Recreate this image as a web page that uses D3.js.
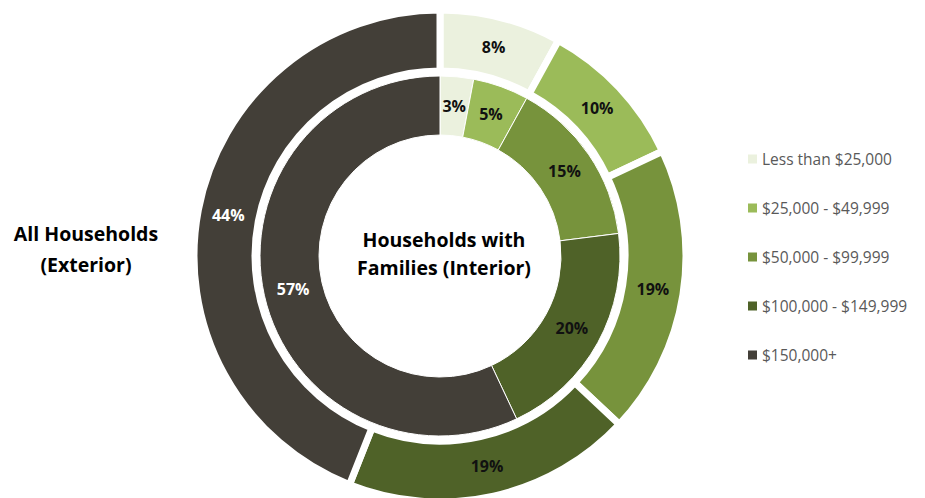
<!DOCTYPE html>
<html>
<head>
<meta charset="utf-8">
<script src="https://cdn.jsdelivr.net/npm/d3@7"></script>
<style>
  html, body { margin: 0; padding: 0; background: #fff; }
  svg { display: block; font-family: "Open Sans", "Noto Sans", sans-serif; }
</style>
</head>
<body>
<svg id="chart" width="925" height="498"></svg>
<script>
// Income brackets and their share (%) for each ring
const categories = ["Less than $25,000", "$25,000 - $49,999", "$50,000 - $99,999", "$100,000 - $149,999", "$150,000+"];
const allHouseholds = [8, 10, 19, 19, 44];        // exterior ring
const familyHouseholds = [3, 5, 15, 20, 57];      // interior ring
const colors = ["#EBF1DE", "#9BBB59", "#77933C", "#4F6228", "#433F38"];
const labelColors = ["#111111", "#111111", "#111111", "#111111", "#ffffff"];

const svg = d3.select("#chart");
const cx = 440, cy = 256;

const pie = d3.pie().sort(null).value(d => d.value);
const color = d3.scaleOrdinal().domain(categories).range(colors);
const textColor = d3.scaleOrdinal().domain(categories).range(labelColors);

function ring(values, inner, outer, strokeW, stroke) {
  const data = pie(categories.map((c, i) => ({ cat: c, value: values[i] })));
  const arc = d3.arc().innerRadius(inner).outerRadius(outer);
  const g = svg.append("g").attr("transform", `translate(${cx},${cy})`);
  g.selectAll("path")
    .data(data)
    .join("path")
    .attr("d", arc)
    .attr("fill", d => color(d.data.cat))
    .attr("stroke", stroke)
    .attr("stroke-width", strokeW)
    .attr("stroke-linejoin", "miter");
  g.selectAll("text")
    .data(data)
    .join("text")
    .attr("transform", d => `translate(${arc.centroid(d)})`)
    .attr("text-anchor", "middle")
    .attr("dy", "0.36em")
    .attr("font-size", 16)
    .attr("font-weight", 700)
    .attr("fill", d => textColor(d.data.cat))
    .text(d => d.data.value + "%");
}

// Exterior ring with wide white separators, interior ring with hairlines
ring(allHouseholds, 185, 246, 7, "#ffffff");
ring(familyHouseholds, 121, 180, 1, "#ffffff");

// Centre caption
svg.append("text")
  .attr("x", 444).attr("y", 247)
  .attr("text-anchor", "middle")
  .attr("font-size", 19.5).attr("font-weight", 700).attr("fill", "#000")
  .text("Households with");
svg.append("text")
  .attr("x", 444).attr("y", 275)
  .attr("text-anchor", "middle")
  .attr("font-size", 19.5).attr("font-weight", 700).attr("fill", "#000")
  .text("Families (Interior)");

// Left caption for the exterior ring
svg.append("text")
  .attr("x", 86).attr("y", 241)
  .attr("text-anchor", "middle")
  .attr("font-size", 19.5).attr("font-weight", 700).attr("fill", "#000")
  .text("All Households");
svg.append("text")
  .attr("x", 86).attr("y", 272)
  .attr("text-anchor", "middle")
  .attr("font-size", 19.5).attr("font-weight", 700).attr("fill", "#000")
  .text("(Exterior)");

// Legend
const legendY = d3.scalePoint().domain(categories).range([159, 355]);
const legend = svg.append("g").selectAll("g")
  .data(categories)
  .join("g")
  .attr("transform", d => `translate(748,${legendY(d)})`);
legend.append("rect")
  .attr("x", 0).attr("y", -4.5)
  .attr("width", 9).attr("height", 9)
  .attr("fill", d => color(d));
legend.append("text")
  .attr("x", 14).attr("dy", "0.36em")
  .attr("font-size", 15.5)
  .attr("fill", "#595959")
  .text(d => d);
</script>
</body>
</html>
